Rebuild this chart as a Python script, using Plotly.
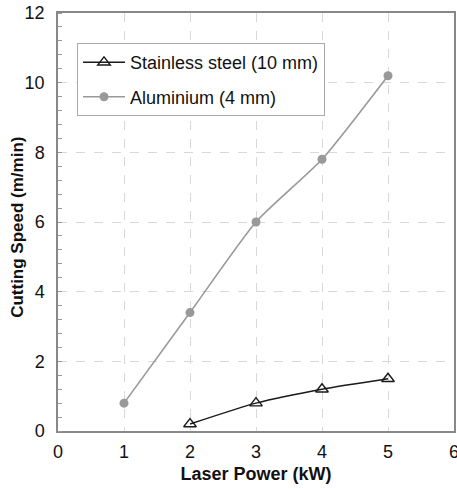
import plotly.graph_objects as go

power_steel = [2, 3, 4, 5]
speed_steel = [0.2, 0.8, 1.2, 1.5]
power_al = [1, 2, 3, 4, 5]
speed_al = [0.8, 3.4, 6.0, 7.8, 10.2]

x_ticks = [0, 1, 2, 3, 4, 5, 6]
y_ticks = [0, 2, 4, 6, 8, 10, 12]

fig = go.Figure()
fig.add_trace(go.Scatter(
    x=power_steel, y=speed_steel, name="Stainless steel (10 mm)",
    mode="lines+markers",
    line=dict(color="#1a1a1a", width=1.5, shape="spline", smoothing=0.6),
    marker=dict(symbol="triangle-up-open", size=11, color="#1a1a1a", line=dict(width=1.4)),
    legendgroup="a"))
fig.add_trace(go.Scatter(
    x=power_al, y=speed_al, name="Aluminium (4 mm)",
    mode="lines+markers",
    line=dict(color="#999999", width=1.6, shape="spline", smoothing=0.6),
    marker=dict(symbol="circle", size=9, color="#999999"),
    legendgroup="b"))

font = "Liberation Sans, Arial, sans-serif"
fig.update_layout(
    width=457, height=489,
    margin=dict(l=58, r=3, t=13, b=58),
    paper_bgcolor="white", plot_bgcolor="white",
    font=dict(family=font, size=18, color="#111"),
    showlegend=True,
    legend=dict(x=0.048, y=0.928, xanchor="left", yanchor="top",
                bordercolor="#aaaaaa", borderwidth=1, bgcolor="white",
                font=dict(size=18, family=font, color="#111"),
                itemwidth=42, tracegroupgap=8, traceorder="grouped"),
    xaxis=dict(range=[0, 6], tickvals=x_ticks, showgrid=True, automargin=False,
               gridcolor="#d8d8d8", griddash="dash", gridwidth=1,
               showline=True, linecolor="#888888", linewidth=1.5, mirror=True,
               ticks="", tickfont=dict(size=18), zeroline=False, ticklabelstandoff=4,
               ticklabeloverflow="allow",
               title=dict(text="<b>Laser Power (kW)</b>", font=dict(size=18), standoff=6)),
    yaxis=dict(range=[0, 12], tickvals=y_ticks, showgrid=True, automargin=False,
               gridcolor="#d8d8d8", griddash="dash", gridwidth=1,
               showline=True, linecolor="#888888", linewidth=1.5, mirror=True,
               ticks="", tickfont=dict(size=18), zeroline=False, ticklabelstandoff=8,
               ticklabeloverflow="allow",
               minor=dict(dtick=0.4, ticks="inside", ticklen=4, tickcolor="#999999", showgrid=False)),
    annotations=[dict(text="<b>Cutting Speed (m/min)</b>", xref="paper", yref="paper",
                      x=-0.101, y=0.486, xanchor="center", yanchor="middle",
                      textangle=-90, showarrow=False, font=dict(size=17, family=font, color="#111"))],
)

fig.write_html("out.html", post_script="document.body.style.margin='0px';",
               config={"displayModeBar": False})
